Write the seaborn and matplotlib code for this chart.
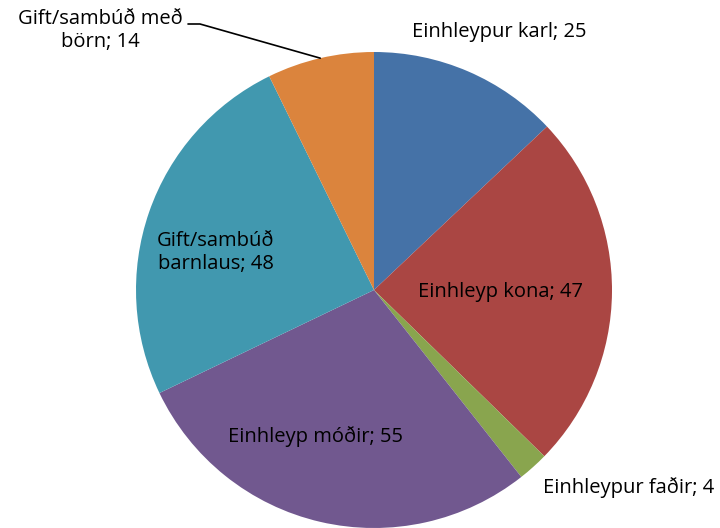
import matplotlib
matplotlib.use("Agg")
import matplotlib.pyplot as plt
import seaborn as sns
import numpy as np

# data
categories = ["Einhleypur karl", "Einhleyp kona", "Einhleypur faðir",
              "Einhleyp móðir", "Gift/sambúð\nbarnlaus", "Gift/sambúð með\nbörn"]
values = [25, 47, 4, 55, 48, 14]
colors = ["#4572A7", "#AA4643", "#89A54E", "#71588F", "#4198AF", "#DB843D"]

# label centres in pixel space (x, y from bottom)
label_pos = [(499, 496), (500, 236), (629, 40), (316, 91), (216, 276), (100, 498)]

sns.set_theme(style="white")
plt.rcParams["font.family"] = ["Open Sans", "DejaVu Sans"]

fig = plt.figure(figsize=(7.2, 5.28), dpi=100)
ax = fig.add_axes([0, 0, 1, 1])

cx, cy, r = 374, 238, 238
wedges, _ = ax.pie(values, colors=colors, startangle=90, counterclock=False,
                   center=(cx, cy), radius=r, frame=True,
                   wedgeprops=dict(linewidth=0))
ax.set_xlim(0, 720)
ax.set_ylim(0, 528)
ax.set_aspect("equal")
ax.axis("off")

for w, cat, v, (tx, ty) in zip(wedges, categories, values, label_pos):
    ax.text(tx, ty, f"{cat}; {v}", ha="center", va="center", fontsize=14.5,
            color="black", linespacing=1.2, multialignment="center")

# leader line for the small orange slice
w = wedges[-1]
mid = np.deg2rad((w.theta1 + w.theta2) / 2)
ex, ey = cx + r * np.cos(mid), cy + r * np.sin(mid)
ax.plot([188, 200, ex], [504, 504, ey], color="black", lw=1.2,
        solid_joinstyle="miter")

plt.savefig("out.png", dpi=100)
